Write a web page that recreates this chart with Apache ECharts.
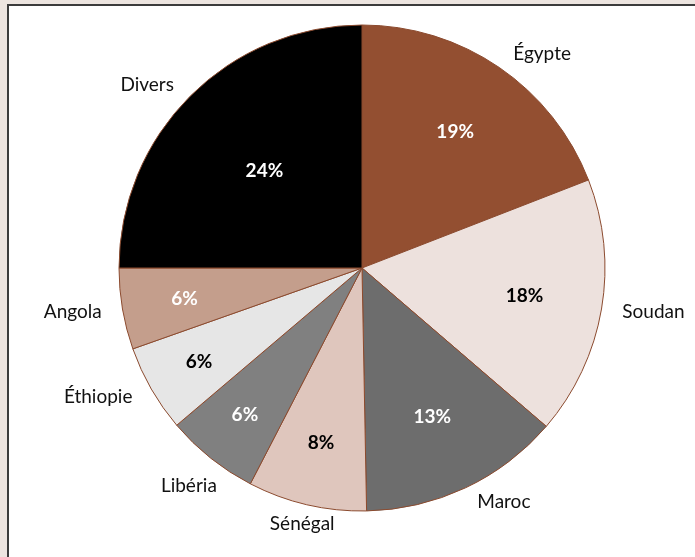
<!DOCTYPE html>
<html>
<head>
<meta charset="utf-8">
<script src="https://cdn.jsdelivr.net/npm/echarts@6/dist/echarts.min.js"></script>
<style>
  html, body { margin: 0; padding: 0; background: #ede5e0; }
  #frame { position: absolute; left: 7px; top: 4px; width: 700px; height: 560px;
           background: #fff; border: 2px solid #3c3c3c; box-sizing: border-box; }
  #main { position: absolute; left: 0; top: 0; width: 695px; height: 557px; }
</style>
</head>
<body>
<div id="frame"></div>
<div id="main"></div>
<script>
// pays (dans l'ordre horaire depuis midi)
var countries = ["Égypte", "Soudan", "Maroc", "Sénégal", "Libéria", "Éthiopie", "Angola", "Divers"];
// parts mesurées sur l'image
var shares = [19.1, 17.2, 13.4, 7.9, 6.2, 5.8, 5.4, 25.0];
// étiquettes affichées
var pctLabels = ["19%", "18%", "13%", "8%", "6%", "6%", "6%", "24%"];
var colors = ["#934f31", "#ede1dd", "#6d6d6d", "#dfc6bd", "#808080", "#e6e6e6", "#c49e8c", "#000000"];
var pctColors = ["#fff", "#000", "#fff", "#000", "#fff", "#000", "#fff", "#fff"];

var CENTER = [362, 268];
var R = 243;
var FONT = 'Lato';

var chart = echarts.init(document.getElementById('main'));

// noms placés en dessous du camembert, centrés sur un anneau
var centeredNames = ["Sénégal", "Libéria"];

var pieData = countries.map(function (c, i) {
    return {
        name: c, value: shares[i], itemStyle: { color: colors[i] },
        label: { show: centeredNames.indexOf(c) < 0 }
    };
});

// anneau invisible qui porte des étiquettes centrées
function labelRing(r0, r1, names, label, useNames) {
    var data = countries.map(function (c, i) {
        return {
            name: c, value: shares[i],
            label: {
                show: names.indexOf(c) >= 0,
                formatter: useNames ? c : pctLabels[i],
                color: useNames ? '#111' : pctColors[i]
            }
        };
    });
    return {
        type: 'pie',
        silent: true,
        center: CENTER,
        radius: [r0, r1],
        startAngle: 90,
        clockwise: true,
        itemStyle: { color: 'rgba(0,0,0,0)', borderWidth: 0 },
        label: label,
        labelLine: { show: false },
        labelLayout: { hideOverlap: false },
        data: data
    };
}

var pctLabel = { position: 'inside', fontFamily: FONT, fontWeight: 'bold', fontSize: 19 };
var nameLabel = { position: 'inside', fontFamily: FONT, fontSize: 19 };

var option = {
    backgroundColor: 'transparent',
    animation: false,
    series: [{
        type: 'pie',
        center: CENTER,
        radius: [0, R],
        startAngle: 90,
        clockwise: true,
        itemStyle: { borderColor: '#8b4a2e', borderWidth: 1 },
        label: {
            position: 'outside',
            fontFamily: FONT,
            fontSize: 19,
            color: '#111',
            formatter: '{b}'
        },
        labelLine: { show: false, length: 16, length2: 0 },
        emphasis: { disabled: true },
        data: pieData
    },
    labelRing(142, 182, ["Égypte", "Soudan", "Maroc"], pctLabel, false),
    labelRing(157, 197, ["Sénégal", "Angola"], pctLabel, false),
    labelRing(165, 205, ["Libéria", "Éthiopie"], pctLabel, false),
    labelRing(115, 155, ["Divers"], pctLabel, false),
    labelRing(250, 270, ["Sénégal"], nameLabel, true),
    labelRing(265, 285, ["Libéria"], nameLabel, true)]
};
chart.setOption(option);
</script>
</body>
</html>
